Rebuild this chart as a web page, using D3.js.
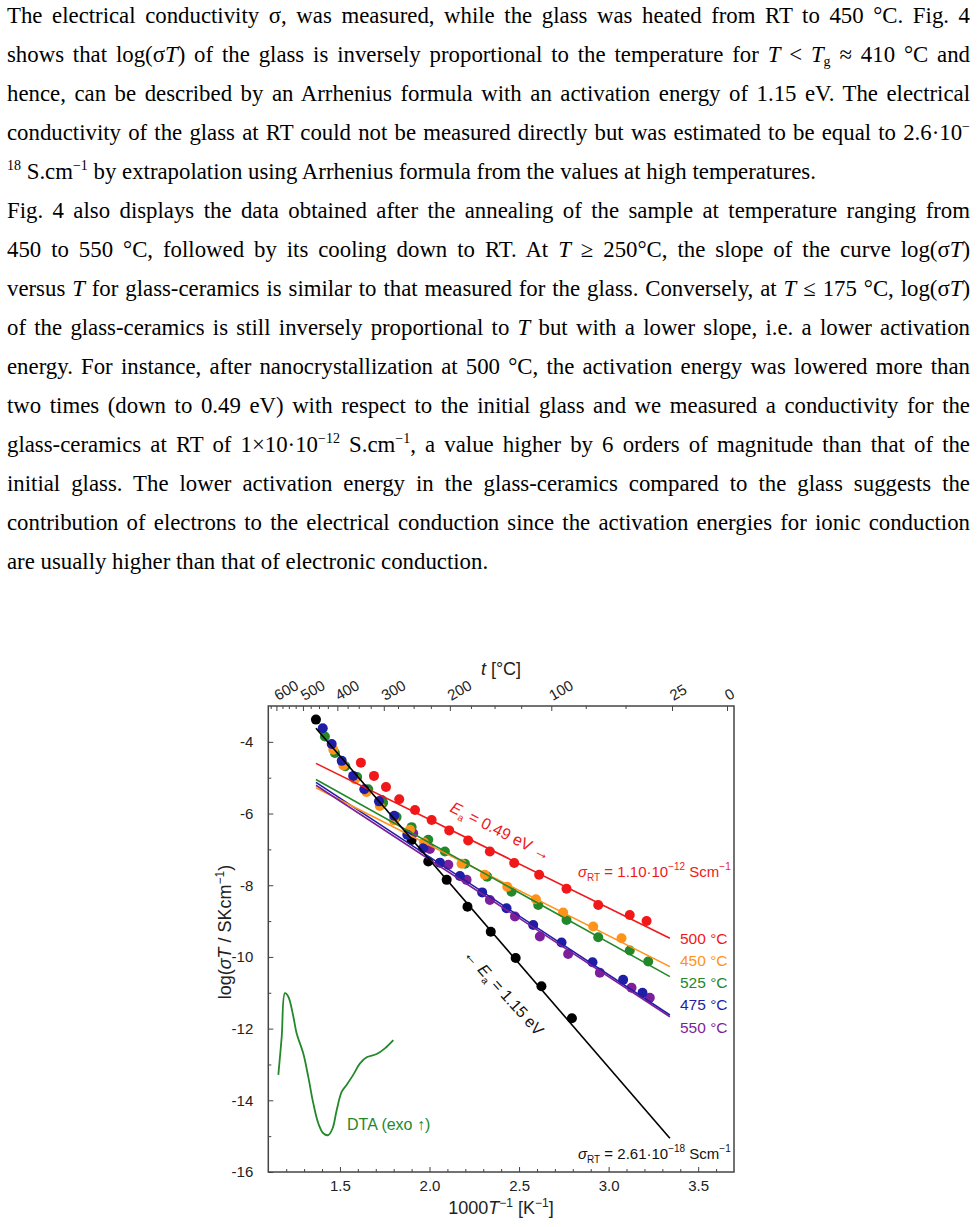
<!DOCTYPE html>
<html>
<head>
<meta charset="utf-8">
<script src="https://cdn.jsdelivr.net/npm/d3@7"></script>
<style>
  body { margin: 0; background: #fff; width: 977px; height: 1227px; overflow: hidden; position: relative; }
  .ln { position: absolute; left: 7px; width: 963px; height: 39px; line-height: 39px; white-space: nowrap;
        font-family: "Liberation Serif", "Times New Roman", serif; font-size: 22.8px; color: #000; }
  .ln span { display: inline-block; }
  .ln sup { font-size: 14px; vertical-align: baseline; position: relative; top: -9px; }
  .ln sub { font-size: 14px; vertical-align: baseline; position: relative; top: 4px; }
  svg { position: absolute; left: 0; top: 0; }
  svg text { font-family: "Liberation Sans", Arial, sans-serif; }
</style>
</head>
<body>
<script>
// paragraph text above the figure
var paraLines = [
  {t: "The electrical conductivity σ, was measured, while the glass was heated from RT to 450 °C. Fig. 4", j: true},
  {t: "shows that log(σ<i>T</i>) of the glass is inversely proportional to the temperature for <i>T</i> &lt; <i>T</i><sub>g</sub> ≈ 410 °C and", j: true},
  {t: "hence, can be described by an Arrhenius formula with an activation energy of 1.15 eV. The electrical", j: true},
  {t: "conductivity of the glass at RT could not be measured directly but was estimated to be equal to 2.6·10<sup>−</sup>", j: true},
  {t: "<sup>18</sup> S.cm<sup>−1</sup> by extrapolation using Arrhenius formula from the values at high temperatures.", j: false},
  {t: "Fig. 4 also displays the data obtained after the annealing of the sample at temperature ranging from", j: true},
  {t: "450 to 550 °C, followed by its cooling down to RT. At <i>T</i> ≥ 250°C, the slope of the curve log(σ<i>T</i>)", j: true},
  {t: "versus <i>T</i> for glass-ceramics is similar to that measured for the glass. Conversely, at <i>T</i> ≤ 175 °C, log(σ<i>T</i>)", j: true},
  {t: "of the glass-ceramics is still inversely proportional to <i>T</i> but with a lower slope, i.e. a lower activation", j: true},
  {t: "energy. For instance, after nanocrystallization at 500 °C, the activation energy was lowered more than", j: true},
  {t: "two times (down to 0.49 eV) with respect to the initial glass and we measured a conductivity for the", j: true},
  {t: "glass-ceramics at RT of 1×10·10<sup>−12</sup> S.cm<sup>−1</sup>, a value higher by 6 orders of magnitude than that of the", j: true},
  {t: "initial glass. The lower activation energy in the glass-ceramics compared to the glass suggests the", j: true},
  {t: "contribution of electrons to the electrical conduction since the activation energies for ionic conduction", j: true},
  {t: "are usually higher than that of electronic conduction.", j: false}
];

// chart data: x = 1000/T [1/K], y = log(sigma T)
var glassPts = [[1.366,-3.38],[1.900,-6.74],[1.993,-7.34],[2.096,-7.85],[2.212,-8.60],[2.342,-9.30],[2.481,-10.03],[2.625,-10.82],[2.795,-11.71]];
var pts500 = [[1.617,-4.58],[1.690,-4.95],[1.757,-5.26],[1.831,-5.60],[1.919,-5.90],[2.012,-6.18],[2.110,-6.47],[2.216,-6.75],[2.337,-7.06],[2.473,-7.38],[2.612,-7.71],[2.765,-8.10],[2.942,-8.55],[3.118,-8.83],[3.212,-9.00]];
var pts450 = [[1.463,-4.22],[1.519,-4.66],[1.584,-5.04],[1.648,-5.40],[1.723,-5.79],[1.801,-6.19],[1.891,-6.45],[1.969,-6.81],[2.179,-7.40],[2.309,-7.71],[2.434,-8.04],[2.594,-8.39],[2.746,-8.76],[2.914,-9.15],[3.072,-9.48]];
var pts525 = [[1.416,-3.85],[1.472,-4.31],[1.530,-4.68],[1.596,-4.98],[1.658,-5.32],[1.741,-5.70],[1.816,-6.10],[1.900,-6.38],[1.993,-6.73],[2.086,-7.06],[2.198,-7.40],[2.322,-7.76],[2.458,-8.18],[2.607,-8.55],[2.765,-8.97],[2.942,-9.45],[3.118,-9.82],[3.221,-10.13]];
var pts475 = [[1.404,-3.62],[1.454,-4.06],[1.510,-4.53],[1.574,-4.95],[1.636,-5.32],[1.718,-5.66],[1.803,-6.06],[1.876,-6.59],[1.965,-6.97],[2.058,-7.37],[2.170,-7.74],[2.294,-8.20],[2.430,-8.64],[2.579,-9.11],[2.737,-9.60],[2.910,-10.15],[3.081,-10.64],[3.189,-11.00]];
var pts550 = [[1.733,-5.62],[1.909,-6.55],[2.002,-6.99],[2.105,-7.43],[2.207,-7.85],[2.337,-8.41],[2.477,-8.87],[2.616,-9.43],[2.774,-9.92],[2.951,-10.44],[3.128,-10.86],[3.230,-11.14]];

// Arrhenius fit lines: y at fitX[0] and fitX[1]
var fitX = [1.366, 3.342];
var fitGlass = [-3.62, -15.06];
var fit500 = [-4.60, -9.48];
var fit450 = [-5.28, -10.27];
var fit525 = [-5.05, -10.55];
var fit475 = [-5.13, -11.62];
var fit550 = [-5.21, -11.67];

var dtaCurve = [[1.156,-13.29],[1.175,-12.22],[1.193,-11.01],[1.212,-11.11],[1.240,-11.67],[1.258,-12.13],[1.295,-12.69],[1.323,-13.34],[1.351,-14.08],[1.379,-14.64],[1.407,-14.92],[1.435,-14.97],[1.459,-14.78],[1.482,-14.27],[1.510,-13.76],[1.537,-13.57],[1.574,-13.29],[1.612,-12.97],[1.649,-12.80],[1.705,-12.71],[1.751,-12.55],[1.798,-12.32]];

var legendLabels = ["500 °C", "450 °C", "525 °C", "475 °C", "550 °C"];
var xTicks = [1.5, 2.0, 2.5, 3.0, 3.5];
var xMinor = [1.2, 1.3, 1.4, 1.6, 1.7, 1.8, 1.9, 2.1, 2.2, 2.3, 2.4, 2.6, 2.7, 2.8, 2.9, 3.1, 3.2, 3.3, 3.4, 3.6];
var yTicks = [-16, -14, -12, -10, -8, -6, -4];
var yMinor = [-15, -13, -11, -9, -7, -5];
var tempTicks = [600, 500, 400, 300, 200, 100, 25, 0];
var tempMinor = [625, 575, 550, 525, 475, 450, 425, 375, 350, 325, 275, 250, 225, 175, 150, 125, 75, 50];

var colRed = "#f01818", colOrange = "#ff9219", colGreen = "#23882a", colBlue = "#1e1ea6", colPurple = "#7d1f9a";

// ---------- paragraphs ----------
var body = d3.select("body");
paraLines.forEach(function (l, i) {
  var div = body.append("div").attr("class", "ln").style("top", (-4 + 39 * i) + "px");
  var sp = div.append("span").html(l.t);
  if (l.j) {
    var w = sp.node().getBoundingClientRect().width;
    var n = (sp.node().textContent.match(/ /g) || []).length;
    sp.style("word-spacing", ((963 - w) / n) + "px");
  }
});

// ---------- chart ----------
var svg = body.append("svg").attr("width", 977).attr("height", 1227);

var x = d3.scaleLinear().domain([1.1, 3.7]).range([268.3, 734]);
var y = d3.scaleLinear().domain([-16, -3]).range([1172, 706]);
var toInv = function (t) { return 1000 / (t + 273.15); };

var series = [
  {pts: glassPts, fit: fitGlass, color: "#000"},
  {pts: pts550, fit: fit550, color: colPurple},
  {pts: pts500, fit: fit500, color: colRed},
  {pts: pts525, fit: fit525, color: colGreen},
  {pts: pts450, fit: fit450, color: colOrange},
  {pts: pts475, fit: fit475, color: colBlue}
];

// points first, fit lines drawn over them
series.forEach(function (s) {
  svg.append("g").selectAll("circle")
    .data(s.pts)
    .enter().append("circle")
    .attr("cx", d => x(d[0]))
    .attr("cy", d => y(d[1]))
    .attr("r", 5)
    .attr("fill", s.color);
});

var line = d3.line().x(d => x(d[0])).y(d => y(d[1]));
series.slice().reverse().forEach(function (s) {
  svg.append("path")
    .attr("d", line([[fitX[0], s.fit[0]], [fitX[1], s.fit[1]]]))
    .attr("fill", "none")
    .attr("stroke", s.color)
    .attr("stroke-width", 1.6);
});

// DTA curve
svg.append("path")
  .attr("d", d3.line().x(d => x(d[0])).y(d => y(d[1])).curve(d3.curveCatmullRom)(dtaCurve))
  .attr("fill", "none")
  .attr("stroke", colGreen)
  .attr("stroke-width", 1.8);

// axes
function styleAxis(g) {
  g.select(".domain").remove();
  g.selectAll("line").attr("stroke", "#444");
  g.selectAll("text").attr("fill", "#222").style("font-size", "15px").style("font-family", "Liberation Sans, Arial, sans-serif");
}

svg.append("g").attr("transform", "translate(0," + y(-16) + ")")
  .call(d3.axisBottom(x).tickValues(xTicks).tickSize(-5).tickPadding(8).tickFormat(d3.format(".1f")))
  .call(styleAxis);
svg.append("g").attr("transform", "translate(0," + y(-16) + ")")
  .call(d3.axisBottom(x).tickValues(xMinor).tickSize(-3).tickFormat(""))
  .call(styleAxis);

svg.append("g").attr("transform", "translate(" + x(1.1) + ",0)")
  .call(d3.axisLeft(y).tickValues(yTicks).tickSize(-5).tickPadding(15).tickFormat(d => String(d)))
  .call(styleAxis);
svg.append("g").attr("transform", "translate(" + x(1.1) + ",0)")
  .call(d3.axisLeft(y).tickValues(yMinor).tickSize(-3).tickFormat(""))
  .call(styleAxis);

var gt = svg.append("g").attr("transform", "translate(0," + y(-3) + ")")
  .call(d3.axisTop(x).tickValues(tempTicks.map(toInv)).tickSize(-5).tickFormat((d, i) => tempTicks[i]))
  .call(styleAxis);
gt.selectAll("text")
  .attr("x", 3.4).attr("y", -3.8).attr("dy", 0)
  .attr("text-anchor", "start")
  .attr("transform", "rotate(-30)");
svg.append("g").attr("transform", "translate(0," + y(-3) + ")")
  .call(d3.axisTop(x).tickValues(tempMinor.map(toInv).filter(v => v > 1.1)).tickSize(-3).tickFormat(""))
  .call(styleAxis);

// frame
svg.append("rect")
  .attr("x", x(1.1)).attr("y", y(-3))
  .attr("width", x(3.7) - x(1.1)).attr("height", y(-16) - y(-3))
  .attr("fill", "none").attr("stroke", "#444").attr("stroke-width", 1.5);

// axis titles
var tt = svg.append("text").attr("x", 501).attr("y", 675).attr("text-anchor", "middle").style("font-size", "18px").attr("fill", "#222");
tt.append("tspan").attr("font-style", "italic").text("t");
tt.append("tspan").text(" [°C]");

var xt = svg.append("text").attr("x", 501).attr("y", 1214).attr("text-anchor", "middle").style("font-size", "18px").attr("fill", "#222");
xt.append("tspan").text("1000");
xt.append("tspan").attr("font-style", "italic").text("T");
xt.append("tspan").attr("dy", -7).style("font-size", "12px").text("−1");
xt.append("tspan").attr("dy", 7).text(" [K");
xt.append("tspan").attr("dy", -7).style("font-size", "12px").text("−1");
xt.append("tspan").attr("dy", 7).text("]");

var yt = svg.append("text").attr("transform", "translate(231,932) rotate(-90)").attr("text-anchor", "middle").style("font-size", "18px").attr("fill", "#222");
yt.append("tspan").text("log(");
yt.append("tspan").attr("font-style", "italic").text("σT");
yt.append("tspan").text(" / SKcm");
yt.append("tspan").attr("dy", -7).style("font-size", "12px").text("−1");
yt.append("tspan").attr("dy", 7).text(")");

// legend labels
var legendColors = [colRed, colOrange, colGreen, colBlue, colPurple];
svg.append("g").selectAll("text")
  .data(legendLabels)
  .enter().append("text")
  .attr("x", 680)
  .attr("y", (d, i) => 943.5 + i * 22.3)
  .attr("fill", (d, i) => legendColors[i])
  .style("font-size", "15.5px")
  .text(d => d);

// activation energy annotations
function eaText(g, value, arrowFirst) {
  if (arrowFirst) g.append("tspan").text("← ");
  g.append("tspan").attr("font-style", "italic").text("E");
  g.append("tspan").attr("dy", 4).style("font-size", "10px").text("a");
  g.append("tspan").attr("dy", -4).text(" = " + value + " eV" + (arrowFirst ? "" : " →"));
}
var ea1 = svg.append("text").attr("transform", "translate(449,811) rotate(27)").attr("fill", colRed).style("font-size", "16px");
eaText(ea1, "0.49", false);
var ea2 = svg.append("text").attr("transform", "translate(463,955) rotate(48)").attr("fill", "#111").style("font-size", "16px");
eaText(ea2, "1.15", true);

function sigmaText(g, mant, exp) {
  g.append("tspan").attr("font-style", "italic").text("σ");
  g.append("tspan").attr("dy", 4).style("font-size", "10px").text("RT");
  g.append("tspan").attr("dy", -4).text(" = " + mant + "·10");
  g.append("tspan").attr("dy", -7).style("font-size", "10px").text("−" + exp);
  g.append("tspan").attr("dy", 7).text(" Scm");
  g.append("tspan").attr("dy", -7).style("font-size", "10px").text("−1");
}
sigmaText(svg.append("text").attr("x", 578).attr("y", 877).attr("fill", colRed).style("font-size", "15px"), "1.10", "12");
sigmaText(svg.append("text").attr("x", 578).attr("y", 1159).attr("fill", "#111").style("font-size", "15px"), "2.61", "18");

svg.append("text").attr("x", 347).attr("y", 1129.5).attr("fill", colGreen).style("font-size", "16px").text("DTA (exo ↑)");
</script>
</body>
</html>
